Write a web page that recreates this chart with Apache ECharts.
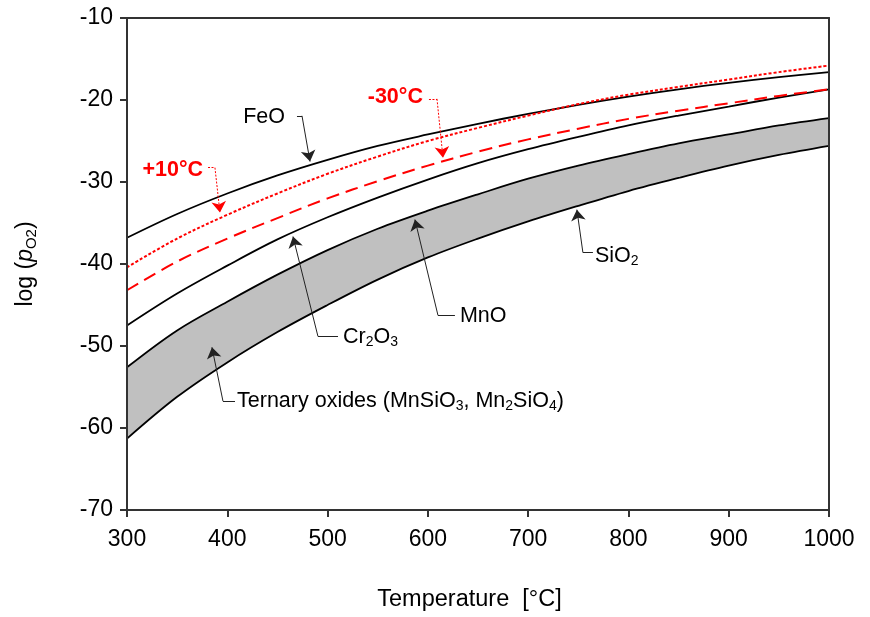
<!DOCTYPE html>
<html>
<head>
<meta charset="utf-8">
<script src="https://cdn.jsdelivr.net/npm/echarts@6/dist/echarts.min.js"></script>
<style>html,body{margin:0;padding:0;background:#fff;}#c{width:870px;height:617px;}</style>
</head>
<body>
<div id="c"></div>
<script>
// ---- data ----
const temps   = [300, 350, 400, 450, 500, 550, 600, 650, 700, 750, 800, 850, 900, 950, 1000];
const feo     = [-36.8, -33.9, -31.4, -29.2, -27.3, -25.6, -24.2, -22.9, -21.7, -20.6, -19.6, -18.7, -17.9, -17.2, -16.6];
const plus10  = [-40.4, -36.9, -34.0, -31.4, -29.0, -26.9, -25.0, -23.4, -21.9, -20.5, -19.35, -18.4, -17.5, -16.6, -15.8];
const minus30 = [-43.2, -39.7, -36.9, -34.4, -32.0, -29.9, -28.0, -26.3, -24.8, -23.5, -22.3, -21.3, -20.4, -19.5, -18.7];
const cr2o3   = [-47.5, -43.6, -40.2, -37.0, -34.3, -31.9, -29.7, -27.7, -26.0, -24.5, -23.1, -21.9, -20.8, -19.7, -18.7];
const mno     = [-52.6, -48.1, -44.6, -41.3, -38.3, -35.7, -33.5, -31.5, -29.6, -28.0, -26.6, -25.3, -24.2, -23.1, -22.2];
const sio2    = [-61.3, -56.2, -52.0, -48.3, -45.0, -41.9, -39.2, -36.9, -34.8, -32.9, -31.1, -29.5, -28.0, -26.7, -25.6];
const xTicks  = [300, 1000, 100];
const yTicks  = [-70, -10, 10];

// ---- annotations (data coordinates) ----
const annoText   = ['FeO', '+10°C', '-30°C', 'Cr{s|2}O{s|3}', 'MnO', 'SiO{s|2}', 'Ternary oxides (MnSiO{s|3}, Mn{s|2}SiO{s|4})'];
const annoAnchor = [[457.5, -22.05], [375.8, -28.5], [595.1, -19.6], [515.4, -48.94], [632.0, -46.39], [766.6, -39.09], [409.7, -56.73]];
const annoSide   = ['left', 'left', 'left', 'right', 'right', 'right', 'right'];
const annoRed    = [false, true, true, false, false, false, false];
const annoLeader = [
  [[469.5, -21.93], [474.5, -21.93], [482.5, -27.5]],
  [[380.8, -28.25], [387.7, -28.25], [392.7, -33.73]],
  [[601.1, -19.86], [609.1, -19.86], [615.1, -27.04]],
  [[510.4, -48.82], [490.4, -48.82], [465.5, -36.65]],
  [[627.0, -46.27], [610.1, -46.27], [587.1, -34.58]],
  [[764.6, -38.6], [754.6, -38.6], [748.6, -33.37]],
  [[407.7, -56.73], [395.7, -56.73], [384.7, -50.16]]
];

const pair = arr => temps.map((t, i) => [t, arr[i]]);
const FONT = 'Liberation Sans, Arial, sans-serif';
const SM = 0.35;

function lineSeries(name, arr, color, type) {
  return {
    name, type: 'line', data: pair(arr), smooth: SM, symbol: 'none', z: 5,
    lineStyle: { color, width: type === 'solid' ? 1.8 : 2, type }
  };
}

const series = [
  // grey band between MnO (upper) and SiO2 (lower): grey fill down to axis start, then white fill below SiO2
  { type: 'line', data: pair(mno), smooth: SM, symbol: 'none', lineStyle: { opacity: 0 },
    areaStyle: { color: '#c0c0c0', opacity: 1, origin: 'start' }, z: 2 },
  { type: 'line', data: pair(sio2), smooth: SM, symbol: 'none', lineStyle: { opacity: 0 },
    areaStyle: { color: '#ffffff', opacity: 1, origin: 'start' }, z: 3 },
  lineSeries('SiO2', sio2, '#000', 'solid'),
  lineSeries('MnO', mno, '#000', 'solid'),
  lineSeries('Cr2O3', cr2o3, '#000', 'solid'),
  lineSeries('FeO', feo, '#000', 'solid'),
  lineSeries('+10', plus10, '#ff0000', [3, 2]),
  lineSeries('-30', minus30, '#ff0000', [13, 7])
];

[false, true].forEach(red => {
  const idx = annoLeader.map((_, i) => i).filter(i => annoRed[i] === red);
  const ls = { color: red ? '#ff0000' : '#222', width: 1, type: red ? [2, 1.5] : 'solid', opacity: 1 };
  series.push({
    type: 'lines', coordinateSystem: 'cartesian2d', z: 6, symbol: 'none', lineStyle: ls,
    data: idx.map(i => ({ coords: [annoLeader[i][0], annoLeader[i][1]] }))
  });
  series.push({
    type: 'lines', coordinateSystem: 'cartesian2d', z: 6, symbol: ['none', 'arrow'], symbolSize: 11,
    lineStyle: ls,
    data: idx.map(i => ({ coords: [annoLeader[i][1], annoLeader[i][2]] }))
  });
});

annoText.forEach((txt, i) => {
  const red = annoRed[i];
  series.push({
    type: 'scatter', symbolSize: 0, z: 7, silent: true,
    itemStyle: { opacity: 1 },
    data: [annoAnchor[i]],
    label: {
      show: true, position: annoSide[i], distance: 0,
      formatter: txt,
      fontFamily: FONT, fontSize: 21.5, fontWeight: red ? 'bold' : 'normal',
      color: red ? '#ff0000' : '#000', lineHeight: 24, opacity: 1,
      rich: {
        s: { fontFamily: FONT, fontSize: 14, color: '#000', lineHeight: 10, verticalAlign: 'bottom' }
      }
    }
  });
});

const boxAxis = { show: true, lineStyle: { color: '#333', width: 2 } };

const chart = echarts.init(document.getElementById('c'));
chart.setOption({
  animation: false,
  backgroundColor: '#fff',
  grid: { left: 127, right: 41, top: 18, bottom: 106, show: false },
  xAxis: [{
    type: 'value', min: xTicks[0], max: xTicks[1], interval: xTicks[2], z: 10,
    name: 'Temperature  [°C]', nameLocation: 'middle', nameGap: 78,
    nameTextStyle: { fontFamily: FONT, fontSize: 23.5, color: '#000', padding: [0, 17, 0, 0] },
    axisLine: boxAxis,
    axisTick: { show: true, inside: false, length: 7, lineStyle: { color: '#333', width: 2 } },
    axisLabel: { fontFamily: FONT, fontSize: 23, color: '#000', margin: 18, formatter: v => String(v) },
    splitLine: { show: false }
  }, {
    type: 'value', position: 'top', min: xTicks[0], max: xTicks[1], z: 10,
    axisLine: boxAxis, axisTick: { show: false }, axisLabel: { show: false }, splitLine: { show: false }
  }],
  yAxis: [{
    type: 'value', min: yTicks[0], max: yTicks[1], interval: yTicks[2], z: 10,
    name: 'log ({i|p}{s|O2})', nameLocation: 'middle', nameGap: 88, nameRotate: 90,
    nameTextStyle: {
      fontFamily: FONT, fontSize: 23, color: '#000', lineHeight: 26,
      rich: {
        i: { fontFamily: FONT, fontSize: 23, fontStyle: 'italic', color: '#000', lineHeight: 26 },
        s: { fontFamily: FONT, fontSize: 15, color: '#000', lineHeight: 12, verticalAlign: 'bottom' }
      }
    },
    axisLine: boxAxis,
    axisTick: { show: true, inside: false, length: 7, lineStyle: { color: '#333', width: 2 } },
    axisLabel: { fontFamily: FONT, fontSize: 23, color: '#000', margin: 14, formatter: v => String(v) },
    splitLine: { show: false }
  }, {
    type: 'value', position: 'right', min: yTicks[0], max: yTicks[1], z: 10,
    axisLine: boxAxis, axisTick: { show: false }, axisLabel: { show: false }, splitLine: { show: false }
  }],
  series
});
</script>
</body>
</html>
